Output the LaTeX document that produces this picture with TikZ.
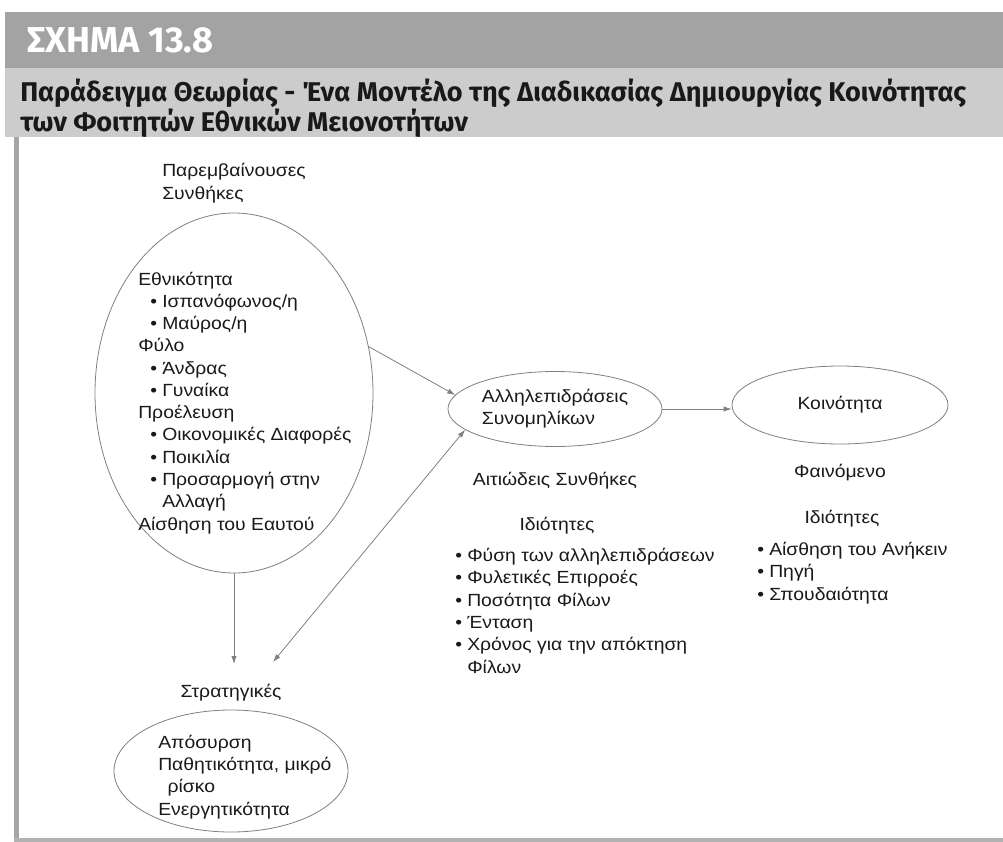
\documentclass[tikz,border=0pt]{standalone}
\usepackage{fontspec}
\setmainfont{Liberation Sans}[FakeStretch=1.1]
\newfontfamily\headfont{Fira Sans}
\usetikzlibrary{shapes.geometric,arrows.meta}
\definecolor{bandgray}{gray}{0.64}
\definecolor{titlegray}{gray}{0.80}
\definecolor{linegray}{gray}{0.50}
\newcommand{\bpt}{\makebox[9pt][l]{\textbullet}}
\newcommand{\bsk}{\hspace*{9pt}}

\begin{document}
\begin{tikzpicture}[x=0.75pt,y=-0.75pt,
  txt/.style={font=\fontsize{13.2}{16.7}\selectfont, inner sep=0pt, align=left, text=black!90},
  oval/.style={ellipse, draw=linegray, line width=0.6pt, inner sep=0pt},
  arr/.style={draw=linegray, line width=0.6pt, -{Latex[length=6pt,width=4pt]}},
  dblarr/.style={arr, {Latex[length=6pt,width=4pt]}-{Latex[length=6pt,width=4pt]}}]
\useasboundingbox (0,0) rectangle (1003,842);
\fill [white] (0,0) rectangle (1003,842);
\fill [bandgray] (5,12) rectangle (1003,68);
\fill [titlegray] (5,68) rectangle (1003,137);
\fill [gray!70] (14,137) rectangle (19,842);
\fill [gray!60] (14,838) rectangle (1003,842);
\node [anchor=base west, inner sep=0pt, text=white, font=\headfont\bfseries\fontsize{27}{30}\selectfont] (fig) at (27,53) {ΣΧΗΜΑ 13.8};
\node [anchor=base west, inner sep=0pt, align=left, text=black!90, font=\headfont\bfseries\fontsize{20.3}{22.5}\selectfont] (title) at (20,132)
  {Παράδειγμα Θεωρίας - Ένα Μοντέλο της Διαδικασίας Δημιουργίας Κοινότητας\\των Φοιτητών Εθνικών Μειονοτήτων};

\node [oval, minimum width=208.5pt, minimum height=270pt] (cond) at (234,393) {};
\node [txt, anchor=base west] (condlabel) at (162,199) {Παρεμβαίνουσες\\Συνθήκες};
\node [txt, anchor=base west] (condlist) at (138,530) {Εθνικότητα\\
  \bsk\bpt Ισπανόφωνος/η\\
  \bsk\bpt Μαύρος/η\\
  Φύλο\\
  \bsk\bpt Άνδρας\\
  \bsk\bpt Γυναίκα\\
  Προέλευση\\
  \bsk\bpt Οικονομικές Διαφορές\\
  \bsk\bpt Ποικιλία\\
  \bsk\bpt Προσαρμογή στην\\
  \bsk\hspace*{9pt}Αλλαγή\\
  Αίσθηση του Εαυτού};

\node [oval, txt, minimum width=160.5pt, minimum height=56.25pt] (peer) at (555,409) {Αλληλεπιδράσεις\\Συνομηλίκων};
\node [oval, txt, minimum width=162pt, minimum height=58.5pt] (comm) at (840,405) {Κοινότητα};

\node [txt, anchor=base] (cause) at (555,485) {Αιτιώδεις Συνθήκες};
\node [txt, anchor=base] (causeprop) at (557,530) {Ιδιότητες};
\node [txt, anchor=base west] (causelist) at (455,673) {\bpt Φύση των αλληλεπιδράσεων\\
  \bpt Φυλετικές Επιρροές\\
  \bpt Ποσότητα Φίλων\\
  \bpt Ένταση\\
  \bpt Χρόνος για την απόκτηση\\
  \hspace*{9pt}Φίλων};

\node [txt, anchor=base] (phen) at (840,477) {Φαινόμενο};
\node [txt, anchor=base] (phenprop) at (842,523) {Ιδιότητες};
\node [txt, anchor=base west] (phenlist) at (757,600) {\bpt Αίσθηση του Ανήκειν\\
  \bpt Πηγή\\
  \bpt Σπουδαιότητα};

\node [txt, anchor=base] (strat) at (231,697) {Στρατηγικές};
\node [oval, minimum width=175.5pt, minimum height=91.5pt] (tact) at (231,771) {};
\node [txt, anchor=base west] (tactlist) at (158,815) {Απόσυρση\\
  Παθητικότητα, μικρό\\
  \hspace*{7pt}ρίσκο\\
  Ενεργητικότητα};

\coordinate (stratin) at (234,664);
\coordinate (stratside) at (273,662);
\draw [arr] (cond.19) -- (peer.172);
\draw [arr] (peer.east) -- (peer.east -| comm.west);
\draw [arr] (cond.south) -- (stratin);
\draw [dblarr] (peer.193) -- (stratside);
\end{tikzpicture}
\end{document}
